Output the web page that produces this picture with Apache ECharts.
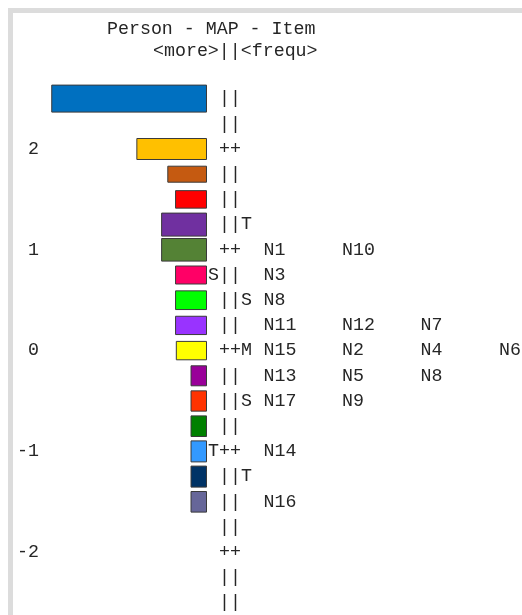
<!DOCTYPE html>
<html>
<head>
<meta charset="utf-8">
<script src="https://cdn.jsdelivr.net/npm/echarts@6/dist/echarts.min.js"></script>
<style>
  html, body { margin: 0; padding: 0; background: #fff; }
  #chart { width: 522px; height: 615px; }
</style>
</head>
<body>
<div id="chart"></div>
<script>
// Logit scale labels, one entry per map row (top = more able / harder)
const levelLabels = ['', '', '2', '', '', '', '1', '', '', '', '0', '', '', '', '-1', '', '', '', '-2', '', ''];

// Separator column: || and ++ rulers, M = mean, S = one SD, T = two SD
const mapColumn = [' ||', ' ||', ' ++', ' ||', ' ||', ' ||T', ' ++', 'S||', ' ||S', ' ||', ' ++M',
                   ' ||', ' ||S', ' ||', 'T++', ' ||T', ' ||', ' ||', ' ++', ' ||', ' ||'];

// Persons located at each row (bar length)
const personCounts = [10, null, 4.5, 2.5, 2, 2.9, 2.9, 2, 2, 2, 1.95, 1, 1, 1, 1, 1, 1, null, null, null, null];

// Items located at each row
const itemsByLevel = [
  [], [], [], [], [], [],
  ['N1', 'N10'],
  ['N3'],
  ['N8'],
  ['N11', 'N12', 'N7'],
  ['N15', 'N2', 'N4', 'N6'],
  ['N13', 'N5', 'N8'],
  ['N17', 'N9'],
  [],
  ['N14'],
  [],
  ['N16'],
  [], [], [], []
];

// Styling per row
const barColors = ['#0070C0', null, '#FFC000', '#C55A11', '#FF0000', '#7030A0', '#548235', '#FF0066',
                   '#00FF00', '#9933FF', '#FFFF00', '#990099', '#FF3300', '#008000', '#3399FF', '#003366',
                   '#666699', null, null, null, null];
const barThickness = [27, 0, 21, 16, 17.5, 23, 22.6, 18, 18.7, 18.3, 18.4, 20, 20.3, 20.6, 21, 21, 20.6, 0, 0, 0, 0];

const FONT = '"Liberation Mono", "DejaVu Sans Mono", monospace';
const FSIZE = 18.3;
const INK = '#262626';

const personData = [];
personCounts.forEach((v, i) => { if (v != null) personData.push([v, i]); });

const itemData = [];
itemsByLevel.forEach((names, row) => {
  names.forEach((name, col) => itemData.push([col, row, name]));
});

const chart = echarts.init(document.getElementById('chart'), null, { renderer: 'canvas' });

chart.setOption({
  backgroundColor: '#ffffff',
  animation: false,
  graphic: [
    { type: 'rect', z: 0, shape: { x: 8, y: 8, width: 514, height: 5 }, style: { fill: '#DCDCDC' } },
    { type: 'rect', z: 0, shape: { x: 8, y: 8, width: 5, height: 607 }, style: { fill: '#DCDCDC' } },
    { type: 'text', z: 10, x: 107, y: 29,
      style: { text: 'Person - MAP - Item', fill: INK, font: FSIZE + 'px ' + FONT,
               align: 'left', verticalAlign: 'middle', textAlign: 'left', textVerticalAlign: 'middle' } },
    { type: 'text', z: 10, x: 153, y: 51,
      style: { text: '<more>||<frequ>', fill: INK, font: FSIZE + 'px ' + FONT,
               align: 'left', verticalAlign: 'middle', textAlign: 'left', textVerticalAlign: 'middle' } }
  ],
  grid: [
    { left: 44, top: 86, width: 162.5, height: 529.2, outerBoundsMode: 'none', containLabel: false },
    { left: 263, top: 86, width: 235.5, height: 529.2, outerBoundsMode: 'none', containLabel: false }
  ],
  xAxis: [
    { gridIndex: 0, type: 'value', inverse: true, min: 0, max: 10.5, show: false },
    { gridIndex: 1, type: 'value', min: 0, max: 3, show: false }
  ],
  yAxis: [
    {
      gridIndex: 0, type: 'category', data: levelLabels, inverse: true, position: 'left',
      axisLine: { show: false }, axisTick: { show: false }, splitLine: { show: false },
      axisLabel: { interval: 0, margin: 5, color: INK, fontFamily: FONT, fontSize: FSIZE }
    },
    {
      gridIndex: 0, type: 'category', data: mapColumn, inverse: true, position: 'right',
      axisLine: { show: false }, axisTick: { show: false }, splitLine: { show: false },
      axisLabel: { interval: 0, margin: 1.5, align: 'left', color: INK, fontFamily: FONT, fontSize: FSIZE }
    },
    {
      gridIndex: 1, type: 'category', data: levelLabels.map((_, i) => String(i)), inverse: true, show: false
    }
  ],
  series: [
    {
      name: 'Persons',
      type: 'custom',
      xAxisIndex: 0,
      yAxisIndex: 0,
      encode: { x: 0, y: 1 },
      data: personData,
      renderItem: function (params, api) {
        const row = api.value(1);
        const p0 = api.coord([0, row]);
        const p1 = api.coord([api.value(0), row]);
        const h = barThickness[row];
        return {
          type: 'rect',
          shape: { x: Math.min(p0[0], p1[0]), y: p0[1] - h / 2, width: Math.abs(p0[0] - p1[0]), height: h },
          style: { fill: barColors[row], stroke: '#3a3a3a', lineWidth: 1 }
        };
      }
    },
    {
      name: 'Items',
      type: 'scatter',
      xAxisIndex: 1,
      yAxisIndex: 2,
      symbolSize: 1,
      itemStyle: { color: 'rgba(0,0,0,0)' },
      data: itemData,
      label: {
        show: true, position: 'right', distance: 0, opacity: 1,
        color: INK, fontFamily: FONT, fontSize: FSIZE,
        formatter: p => p.data[2]
      }
    }
  ]
});
</script>
</body>
</html>
